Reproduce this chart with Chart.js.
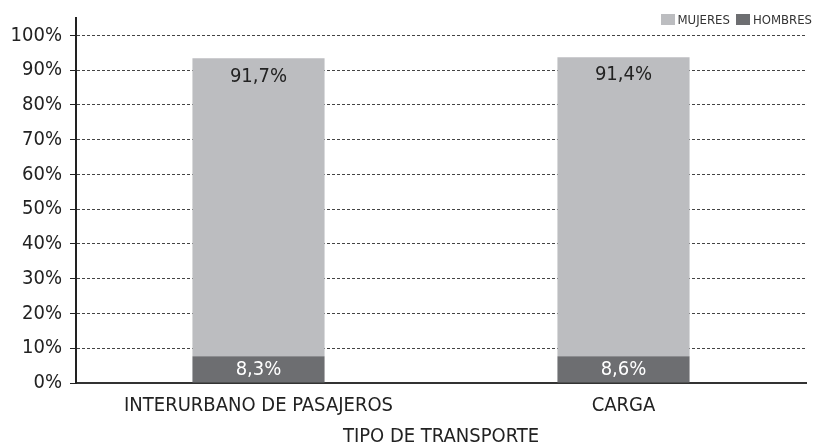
<!DOCTYPE html>
<html>
<head>
<meta charset="utf-8">
<script src="https://cdn.jsdelivr.net/npm/chart.js@4/dist/chart.umd.min.js"></script>
<style>
  body{margin:0;background:#fff;}
  #wrap{position:relative;width:822px;height:448px;}
  #legend{position:absolute;top:12px;right:10px;font:13px 'DejaVu Sans Condensed',sans-serif;color:#333;display:flex;align-items:center;}
  #legend span.box{display:inline-block;width:14px;height:11px;margin-right:3px;}
  #legend span.item{display:flex;align-items:center;margin-left:6px;}
</style>
</head>
<body>
<div id="wrap">
  <canvas id="chart" width="822" height="448"></canvas>
  <div id="legend"></div>
</div>
<script>
const categories = ['INTERURBANO DE PASAJEROS', 'CARGA'];
// bar heights as drawn in the picture (%)
const hombres = [7.7, 7.7];
const mujeres = [85.7, 86.0];
// printed value labels
const hombresText = ['8,3%', '8,6%'];
const mujeresText = ['91,7%', '91,4%'];
const yTicks = [0, 10, 20, 30, 40, 50, 60, 70, 80, 90, 100];
const colors = { HOMBRES: '#6d6e71', MUJERES: '#bcbdc0' };

const FONT = "'DejaVu Sans Condensed', sans-serif";
Chart.defaults.font.family = FONT;
Chart.defaults.font.size = 20;
Chart.defaults.color = '#222';

const valueLabels = {
  id: 'valueLabels',
  afterDatasetsDraw(chart){
    const ctx = chart.ctx;
    ctx.save();
    ctx.font = '20px ' + FONT;
    ctx.textAlign = 'center';
    ctx.textBaseline = 'middle';
    chart.data.datasets.forEach((ds, di) => {
      const meta = chart.getDatasetMeta(di);
      meta.data.forEach((bar, i) => {
        if (ds.label === 'HOMBRES'){
          ctx.fillStyle = '#fff';
          ctx.fillText(hombresText[i], bar.x, (bar.y + bar.base) / 2);
        } else {
          ctx.fillStyle = '#222';
          ctx.fillText(mujeresText[i], bar.x, bar.y + 18);
        }
      });
    });
    ctx.restore();
  }
};

new Chart(document.getElementById('chart'), {
  type: 'bar',
  data: {
    labels: categories,
    datasets: [
      { label: 'HOMBRES', data: hombres, backgroundColor: colors.HOMBRES },
      { label: 'MUJERES', data: mujeres, backgroundColor: colors.MUJERES }
    ]
  },
  options: {
    responsive: false,
    animation: false,
    layout: { padding: { left: 4, right: 16, top: 17, bottom: 0 } },
    categoryPercentage: 1,
    barPercentage: 0.362,
    plugins: { legend: { display: false }, tooltip: { enabled: false } },
    scales: {
      x: {
        stacked: true,
        grid: { display: false, drawTicks: false },
        border: { color: '#333', width: 2 },
        ticks: { padding: 13, color: '#222', font: { lineHeight: 1 } },
        title: { display: true, text: 'TIPO DE TRANSPORTE', color: '#222', font: { lineHeight: 1 }, padding: { top: 8, bottom: 1 } },
        afterFit: scale => { scale.height = 65; }
      },
      y: {
        stacked: true,
        min: 0,
        max: 105,
        afterBuildTicks: scale => { scale.ticks = yTicks.map(v => ({ value: v })); },
        ticks: { callback: v => v + '%', padding: 8, color: '#222', font: { lineHeight: 1 } },
        grid: { color: '#444', lineWidth: 1, tickLength: 6, tickColor: '#222', tickBorderDash: [] },
        border: { color: '#222', width: 2, dash: [3, 2] },
        afterFit: scale => { scale.width = 72; }
      }
    }
  },
  plugins: [valueLabels]
});

const legend = document.getElementById('legend');
['MUJERES', 'HOMBRES'].forEach(name => {
  const item = document.createElement('span');
  item.className = 'item';
  item.innerHTML = '<span class="box" style="background:' + colors[name] + '"></span>' + name;
  legend.appendChild(item);
});
</script>
</body>
</html>
